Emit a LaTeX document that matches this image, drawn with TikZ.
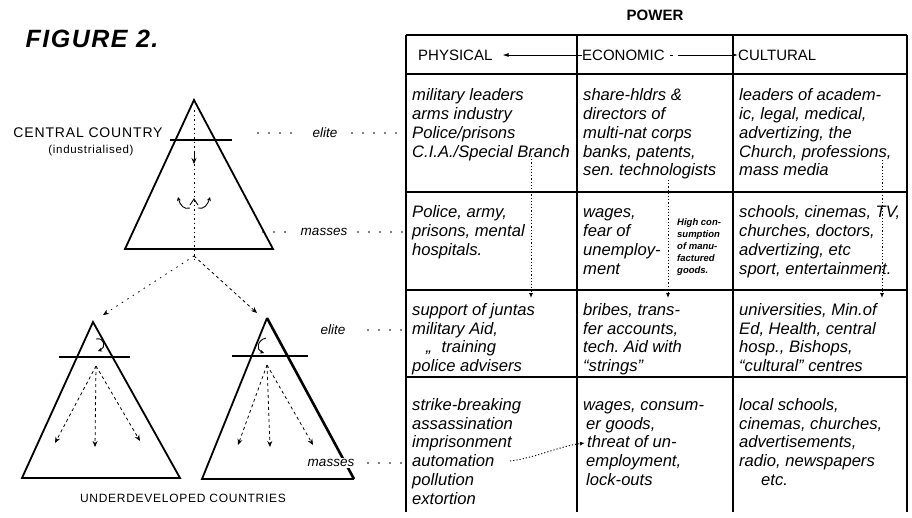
\documentclass[tikz,border=0pt]{standalone}
\usepackage{fontspec}
\setmainfont{Liberation Sans}
\newfontfamily\spacedsans[LetterSpace=6]{Liberation Sans}
\usetikzlibrary{arrows.meta}
\frenchspacing
\lineskiplimit=-6pt
\newcommand\cellfnt{\itshape\fontsize{16.6}{18.8}\selectfont}
\newcommand\tstrut{\rule{0pt}{12pt}}
\tikzset{
  cell/.style={anchor=north west, inner sep=0pt, align=left, font=\cellfnt},
  hdr/.style={anchor=west, inner sep=0pt, font=\fontsize{15}{17}\selectfont},
  lvl/.style={inner sep=1pt, font=\itshape\fontsize{13.5}{15}\selectfont},
  dotrow/.style={line width=1.6pt, line cap=round, dash pattern=on 0pt off 11pt},
  gridh/.style={line width=1.7pt},
  gridv/.style={line width=1.2pt},
  triline/.style={line width=1.8pt, line join=miter},
  flow/.style={line width=0.8pt, dash pattern=on 3pt off 3pt, -{Stealth[length=6pt,width=5pt]}},
  tdots/.style={line width=0.9pt, dash pattern=on 1.2pt off 2pt, -{Latex[length=5pt,width=4pt]}},
  harrow/.style={line width=0.8pt, -{Latex[length=6pt,width=4pt]}},
}
\begin{document}
\begin{tikzpicture}[x=1pt,y=-1pt]
\useasboundingbox (0,0) rectangle (912,517);

% titles
\node[font=\spacedsans\bfseries\itshape\fontsize{25}{28}\selectfont] (fig) at (92,39) {FIGURE 2.};
\node[font=\bfseries\fontsize{15}{17}\selectfont] (power) at (655,15) {POWER};
\node[font=\spacedsans\fontsize{14}{16}\selectfont] (cc) at (88,133) {CENTRAL COUNTRY};
\node[font=\spacedsans\fontsize{11.5}{13}\selectfont] (ind) at (91,151) {(industrialised)};
\node[font=\spacedsans\fontsize{12}{14}\selectfont] (udc) at (183,498) {UNDERDEVELOPED COUNTRIES};

% upper triangle
\coordinate (A1) at (194,100);
\coordinate (L1) at (125,249);
\coordinate (R1) at (273,249);
\draw[triline] (A1) -- (L1) -- (R1) -- cycle;
\draw[line width=1.3pt] (170,140) -- (232,140);
\draw[line width=0.7pt, dash pattern=on 1.5pt off 3pt] (194,110) -- (194,262);
\draw[line width=0.8pt, -{Stealth[length=6pt,width=5pt]}] (194,152) -- (194,164);
\draw[line width=0.9pt] (190,205) -- (194,199) -- (198,205);
\draw[line width=0.9pt, -{Stealth[length=4pt,width=4pt]}] (190,208) .. controls (184,210) and (180,205) .. (178,197);
\draw[line width=0.9pt, -{Stealth[length=4pt,width=4pt]}] (198,208) .. controls (204,210) and (208,204) .. (210,197);
\coordinate (B1) at (194,256);

% lower left triangle
\coordinate (A2) at (93,322);
\coordinate (L2) at (22,478);
\coordinate (R2) at (180,478);
\draw[triline] (A2) -- (L2) -- (R2) -- cycle;
\draw[line width=1.3pt] (59,357) -- (130,357);
\draw[line width=0.9pt, -{Stealth[length=4pt,width=4pt]}] (96,339) .. controls (105,337) and (106,348) .. (98,351);
\coordinate (S2) at (96,366);
\coordinate (T2a) at (55,443);
\coordinate (T2b) at (95,447);
\coordinate (T2c) at (140,441);
\draw[flow] (S2) -- (T2a);
\draw[flow] (S2) -- (T2b);
\draw[flow] (S2) -- (T2c);

% lower right triangle
\coordinate (A3) at (267,318);
\coordinate (L3) at (202,479);
\coordinate (R3) at (354,479);
\draw[triline] (R3) -- (L3) -- (A3);
\draw[line width=2.6pt] (A3) -- (R3);
\draw[line width=1.3pt] (232,356) -- (308,356);
\draw[line width=0.9pt, -{Stealth[length=4pt,width=4pt]}] (266,338) .. controls (257,340) and (256,350) .. (264,353);
\coordinate (S3) at (267,365);
\coordinate (T3a) at (238,445);
\coordinate (T3b) at (270,447);
\coordinate (T3c) at (313,445);
\draw[flow] (S3) -- (T3a);
\draw[flow] (S3) -- (T3b);
\draw[flow] (S3) -- (T3c);

% from central to underdeveloped
\coordinate (E2) at (103,315);
\coordinate (E3) at (257,313);
\draw[flow, dash pattern=on 1.5pt off 5pt] (B1) -- (E2);
\draw[flow] (B1) -- (E3);

% level labels and dotted leaders
\node[lvl] (el1) at (325,133) {elite};
\node[lvl] (ma1) at (324,232) {masses};
\node[lvl] (el2) at (333,330) {elite};
\node[lvl, fill=white] (ma2) at (331,463) {masses};
\draw[dotrow] (258,133) -- (300,133);
\draw[dotrow] (352,133) -- (405,133);
\draw[dotrow] (263,232) -- (292,232);
\draw[dotrow] (358,232) -- (405,232);
\draw[dotrow] (368,330) -- (405,330);
\draw[dotrow] (368,463) -- (405,463);

% table grid
\draw[gridh] (406,35) -- (907,35);
\draw[gridh] (406,74) -- (907,74);
\draw[gridh] (406,192) -- (907,192);
\draw[gridh] (406,290) -- (907,290);
\draw[gridh] (406,377) -- (907,377);
\draw[gridv] (406,35) -- (406,512);
\draw[gridv] (577,35) -- (577,512);
\draw[gridv] (733,35) -- (733,512);
\draw[gridv] (907,35) -- (907,512);

% header
\node[hdr] (hphys) at (418,55) {PHYSICAL};
\node[hdr] (hecon) at (582,55) {ECONOMIC};
\node[hdr] (hcult) at (738,55) {CULTURAL};
\draw[harrow, shorten >=10pt] (hecon.west) -- (hphys.east);
\draw[harrow, dash pattern=on 3pt off 5pt on 100pt, shorten <=5pt] (hecon.east) -- (hcult.west);

% row 1: elite of central country
\node[cell] (p1) at (412,88.4) {\tstrut military leaders\\arms industry\\Police/prisons\\C.I.A./Special Branch};
\node[cell] (e1) at (583,88.4) {\tstrut share-hldrs \&\\directors of\\multi-nat corps\\banks, patents,\\sen. technologists};
\node[cell] (c1) at (739,88.4) {\tstrut leaders of academ-\\ic, legal, medical,\\advertizing, the\\Church, professions,\\mass media};

% row 2: masses of central country
\node[cell] (p2) at (412,205.4) {\tstrut Police, army,\\prisons, mental\\hospitals.};
\node[cell] (e2) at (583,205.4) {\tstrut wages,\\fear of\\unemploy-\\ment};
\node[cell, font=\bfseries\itshape\fontsize{9.5}{12}\selectfont] (e2b) at (677,217) {\strut High con-\\sumption\\of manu-\\factured\\goods.};
\node[cell] (c2) at (739,205.4) {\tstrut schools, cinemas, TV,\\churches, doctors,\\advertizing, etc\\sport, entertainment.};

% row 3: elite of underdeveloped countries
\node[cell] (p3) at (412,303) {\tstrut support of juntas\\military Aid,\\\hspace*{14pt},,\hspace{10pt}training\\police advisers};
\node[cell] (e3) at (583,303) {\tstrut bribes, trans-\\fer accounts,\\tech. Aid with\\“strings”};
\node[cell] (c3) at (739,303) {\tstrut universities, Min.of\\Ed, Health, central\\hosp., Bishops,\\“cultural” centres};

% row 4: masses of underdeveloped countries
\node[cell] (p4) at (412,398) {\tstrut strike-breaking\\assassination\\imprisonment\\automation\\pollution\\extortion};
\node[cell] (e4) at (583,398) {\tstrut wages, consum-\\\hspace*{3pt}er goods,\\\hspace*{4pt}threat of un-\\\hspace*{3pt}employment,\\\hspace*{3pt}lock-outs};
\node[cell] (c4) at (739,398) {\tstrut local schools,\\cinemas, churches,\\advertisements,\\radio, newspapers\\\hspace*{22pt}etc.};

% dotted arrows in the table
\coordinate (pa) at (531,156);
\coordinate (pb) at (531,298);
\coordinate (ea) at (668,180);
\coordinate (eb) at (668,298);
\coordinate (ca) at (882,160);
\coordinate (cb) at (882,298);
\draw[tdots] (pa) -- (pb);
\draw[tdots] (ea) -- (eb);
\draw[tdots] (ca) -- (cb);
\coordinate (autoend) at (510,461);
\coordinate (threat) at (585,443);
\draw[tdots] (autoend) .. controls (535,458) and (560,446) .. (threat);
\end{tikzpicture}
\end{document}
